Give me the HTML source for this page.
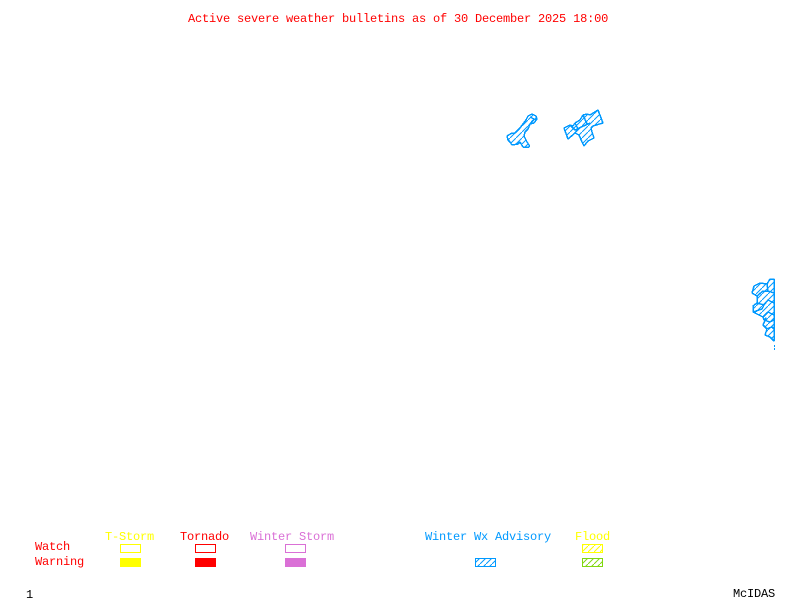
<!DOCTYPE html>
<html>
<head>
<meta charset="utf-8">
<style>
html,body{margin:0;padding:0;background:#fff;width:800px;height:600px;overflow:hidden}
svg{display:block}
text{font-family:"Liberation Mono",monospace;font-size:12px;letter-spacing:-.2px}
</style>
</head>
<body>
<svg width="800" height="600" viewBox="0 0 800 600" xmlns="http://www.w3.org/2000/svg">
<defs>
<pattern id="hb" patternUnits="userSpaceOnUse" width="6" height="6"><path d="M-1 7L7 -1" stroke="#0099ff" stroke-width="1" fill="none"/></pattern>
<pattern id="hy" patternUnits="userSpaceOnUse" width="6" height="6"><path d="M-1 7L7 -1" stroke="#ffff00" stroke-width="1" fill="none"/></pattern>
<pattern id="hg" patternUnits="userSpaceOnUse" width="6" height="6"><path d="M-1 7L7 -1" stroke="#80d810" stroke-width="1" fill="none"/></pattern>
</defs>
<rect width="800" height="600" fill="#fff"/>

<text x="188" y="22" fill="#ff0000">Active severe weather bulletins as of 30 December 2025 18:00</text>

<!-- Advisory areas -->
<g fill="url(#hb)" stroke="#0099ff" stroke-width="1.5" stroke-linejoin="round" shape-rendering="crispEdges">
<polygon points="532,114 536,116 537,119 534,123 530,124 528,129 525,132 524,136 527,142 529,145 529,147 523,147 520,142 518,144 512,145 510,142 508,140 507,136 512,133 515,133 520,128 523,124 526,120 528,116"/>
<path fill="none" d="M530,117L536,120M530,124L534,119"/>
<polygon points="564,128 570,125 573,126 575,123 580,120 583,115 587,114 590,115 598,110 603,123 593,126 591,128 592,132 594,138 588,141 584,146 582,142 579,135 575,133 568,139"/>
<path fill="none" d="M570,125L575,130L590,123M583,115L587,124M575,123L578,129L575,133M572,127L574,129"/>
<polygon points="774,279 770,279 767,284 760,283 754,286 752,293 757,296 757,303 753,306 753,312 763,317 764,320 766,318 763,325 767,329 765,335 770,337 774,341"/>
<path fill="none" d="M767,284L768,291L774,293M757,296L763,291L768,291M757,303L764,305L768,300L774,303M753,312L762,309L764,305M763,317L768,312L774,315M764,320L770,322L774,320M766,329L772,327L774,329"/>
</g>
<g fill="#0099ff" shape-rendering="crispEdges"><rect x="774" y="345" width="1" height="2"/><rect x="774" y="348" width="1" height="2"/></g>

<!-- Legend labels -->
<text x="105" y="540" fill="#ffff00">T-Storm</text>
<text x="180" y="540" fill="#ff0000">Tornado</text>
<text x="250" y="540" fill="#da70d6">Winter Storm</text>
<text x="425" y="540" fill="#0099ff">Winter Wx Advisory</text>
<text x="575" y="540" fill="#ffff00">Flood</text>
<text x="35" y="550" fill="#ff0000">Watch</text>
<text x="35" y="565" fill="#ff0000">Warning</text>

<!-- Legend boxes -->
<g shape-rendering="crispEdges">
<rect x="120.5" y="544.5" width="20" height="8" fill="none" stroke="#ffff00"/>
<rect x="195.5" y="544.5" width="20" height="8" fill="none" stroke="#ff0000"/>
<rect x="285.5" y="544.5" width="20" height="8" fill="none" stroke="#da70d6"/>
<rect x="582.5" y="544.5" width="20" height="8" fill="url(#hy)" stroke="#ffff00"/>
<rect x="120" y="558" width="21" height="9" fill="#ffff00"/>
<rect x="195" y="558" width="21" height="9" fill="#ff0000"/>
<rect x="285" y="558" width="21" height="9" fill="#da70d6"/>
<rect x="475.5" y="558.5" width="20" height="8" fill="url(#hb)" stroke="#0099ff"/>
<rect x="582.5" y="558.5" width="20" height="8" fill="url(#hg)" stroke="#80d810"/>
</g>

<text x="26" y="598" fill="#000">1</text>
<text x="733" y="597" fill="#000">McIDAS</text>
</svg>
</body>
</html>
